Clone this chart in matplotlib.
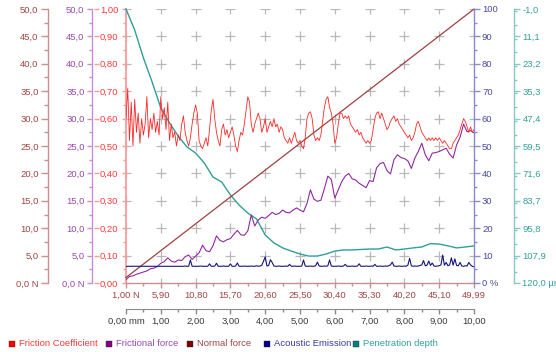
import numpy as np
import matplotlib
matplotlib.use("Agg")
import matplotlib.pyplot as plt
from matplotlib.ticker import MultipleLocator
from matplotlib.patches import Rectangle

plt.rcParams['font.family'] = ['Liberation Sans', 'DejaVu Sans']
FS = 6.8

# ---------------- data ----------------
distance_range_mm = [0.0, 10.0]
normal_force_ends = [1.00, 49.99]          # linear load ramp, N

# friction coefficient, sampled every 0.05 mm
friction_coefficient = [
    0.60, 0.71, 0.52, 0.66, 0.50, 0.67, 0.55, 0.62, 0.51, 0.60, 0.54, 0.58, 0.68, 0.53, 0.60, 0.56, 0.62, 0.55, 0.59, 0.54,
    0.68, 0.60, 0.64, 0.56, 0.66, 0.52, 0.58, 0.53, 0.55, 0.50, 0.54, 0.52, 0.58, 0.61, 0.55, 0.52, 0.50, 0.53, 0.58, 0.62,
    0.65, 0.62, 0.52, 0.50, 0.49, 0.51, 0.53, 0.50, 0.56, 0.63, 0.67, 0.60, 0.55, 0.52, 0.50, 0.56, 0.58, 0.54, 0.56, 0.53,
    0.55, 0.57, 0.54, 0.50, 0.48, 0.52, 0.55, 0.54, 0.58, 0.63, 0.68, 0.66, 0.58, 0.55, 0.58, 0.60, 0.62, 0.60, 0.55, 0.57,
    0.60, 0.55, 0.57, 0.59, 0.57, 0.60, 0.57, 0.58, 0.55, 0.57, 0.56, 0.53, 0.52, 0.51, 0.53, 0.51, 0.53, 0.55, 0.52, 0.51,
    0.52, 0.50, 0.49, 0.53, 0.60, 0.62, 0.625, 0.60, 0.54, 0.52, 0.53, 0.52, 0.54, 0.59, 0.64, 0.67, 0.68, 0.64, 0.62, 0.58,
    0.51, 0.53, 0.58, 0.62, 0.62, 0.60, 0.61, 0.60, 0.61, 0.58, 0.57, 0.56, 0.55, 0.56, 0.54, 0.55, 0.53, 0.52, 0.51, 0.52,
    0.51, 0.52, 0.56, 0.60, 0.62, 0.625, 0.60, 0.62, 0.60, 0.58, 0.56, 0.57, 0.59, 0.60, 0.61, 0.59, 0.60, 0.58, 0.57, 0.56,
    0.55, 0.54, 0.53, 0.54, 0.52, 0.53, 0.55, 0.58, 0.59, 0.57, 0.55, 0.54, 0.53, 0.52, 0.53, 0.52, 0.53, 0.52, 0.53, 0.52,
    0.53, 0.52, 0.51, 0.52, 0.51, 0.50, 0.49, 0.49, 0.51, 0.52, 0.53, 0.54, 0.56, 0.58, 0.60, 0.59, 0.57, 0.55, 0.57, 0.55,
    0.56,
]

# frictional force in N, sampled every 0.1 mm
frictional_force = [
    0.6, 1.2, 1.3, 1.6, 1.8, 2.0, 2.2, 2.6, 2.7, 3.0,
    3.6, 3.9, 4.6, 4.0, 3.8, 4.2, 4.1, 4.8, 5.1, 4.3,
    4.9, 5.5, 6.9, 5.9, 5.7, 6.8, 8.6, 7.8, 7.5, 7.9,
    8.1, 8.9, 9.6, 8.8, 8.7, 9.5, 12.4, 10.4, 11.5, 12.0,
    11.8, 12.3, 12.9, 12.5, 12.7, 13.3, 12.9, 12.8, 13.3, 13.7,
    13.3, 13.0, 14.5, 17.0, 15.3, 14.9, 15.1, 17.2, 19.5, 18.9,
    15.5, 17.0, 18.5, 19.5, 20.0, 19.0, 18.8, 18.2, 17.8, 17.4,
    18.7, 18.5, 21.0, 21.8, 22.0, 20.5, 19.9, 22.5, 23.4, 22.9,
    22.7, 22.3, 20.9, 22.8, 24.0, 25.5, 23.4, 22.3, 23.7, 23.8,
    24.0, 24.3, 24.6, 23.5, 22.8, 25.2, 26.6, 29.0, 27.6, 27.8,
    27.4,
]

# acoustic emission in %, sampled every 0.05 mm
acoustic_emission = [
    6.0, 6.1, 6.1, 6.1, 6.1, 6.1, 6.1, 6.1, 6.1, 6.1, 6.1, 6.1, 6.1, 6.1, 6.1, 6.1, 6.1, 6.1, 6.1, 6.1,
    6.1, 6.1, 6.1, 6.1, 6.1, 6.1, 6.1, 6.1, 6.1, 6.1, 6.1, 6.1, 6.1, 6.1, 6.2, 6.1, 6.1, 8.4, 6.1, 6.1,
    6.1, 6.1, 6.1, 6.2, 6.1, 6.1, 6.1, 6.1, 7.0, 6.1, 6.1, 6.2, 7.2, 6.1, 6.1, 6.1, 6.2, 6.1, 6.1, 6.1,
    7.0, 6.1, 6.1, 6.2, 7.3, 6.1, 6.1, 6.1, 6.2, 6.1, 6.1, 6.1, 6.2, 6.1, 6.1, 6.3, 6.1, 6.2, 6.4, 8.0,
    9.5, 6.2, 6.4, 8.5, 7.5, 6.2, 6.1, 6.1, 6.2, 6.1, 6.1, 6.1, 6.2, 6.1, 6.8, 6.1, 6.1, 6.2, 6.1, 6.1,
    6.1, 6.2, 8.4, 6.2, 6.1, 6.1, 6.2, 6.1, 6.1, 6.3, 7.6, 6.2, 6.1, 6.1, 6.2, 6.1, 6.3, 8.4, 6.2, 6.1,
    6.1, 6.1, 6.2, 6.1, 6.1, 6.2, 6.8, 6.1, 6.1, 6.1, 6.2, 6.1, 6.1, 6.2, 7.0, 6.1, 6.1, 6.1, 6.2, 6.1,
    6.1, 6.2, 6.1, 6.8, 6.1, 6.1, 6.2, 6.1, 6.1, 6.2, 6.1, 6.3, 6.6, 7.6, 6.2, 6.1, 6.1, 6.2, 6.1, 6.1,
    6.2, 6.1, 6.5, 9.0, 6.3, 6.1, 6.2, 6.1, 6.2, 6.4, 6.6, 8.2, 6.3, 6.5, 8.0, 6.4, 7.3, 6.2, 6.1, 6.2,
    6.3, 6.6, 10.2, 6.5, 7.5, 6.3, 6.6, 9.2, 6.5, 8.8, 6.4, 6.3, 7.5, 6.2, 6.1, 6.3, 6.2, 7.5, 6.6, 6.1,
    5.9,
]

# penetration depth in µm, sampled every 0.25 mm
penetration_depth = [
    -1.0, 8.3, 20.6, 31.2, 42.7, 49.3, 55.1, 59.9, 62.6, 67.0,
    73.2, 75.4, 81.1, 85.6, 89.1, 91.7, 98.8, 102.3, 104.5, 105.9,
    107.2, 108.1, 108.1, 107.2, 105.9, 105.4, 105.4, 105.2, 105.0, 105.0,
    104.1, 105.4, 105.0, 104.5, 104.1, 102.6, 102.8, 103.6, 104.5, 104.1,
    103.6,
]

distance_ticks = [0, 1, 2, 3, 4, 5, 6, 7, 8, 9, 10]
distance_tick_labels = ['0,00 mm', '1,00', '2,00', '3,00', '4,00', '5,00',
                        '6,00', '7,00', '8,00', '9,00', '10,00']
normal_force_tick_labels = ['1,00 N', '5,90', '10,80', '15,70', '20,60', '25,50',
                            '30,40', '35,30', '40,20', '45,10', '49,99']
force_ticks = [0, 5, 10, 15, 20, 25, 30, 35, 40, 45, 50]
force_tick_labels = ['0,0 N', '5,0', '10,0', '15,0', '20,0', '25,0',
                     '30,0', '35,0', '40,0', '45,0', '50,0']
coefficient_ticks = [0.0, 0.1, 0.2, 0.3, 0.4, 0.5, 0.6, 0.7, 0.8, 0.9, 1.0]
coefficient_tick_labels = ['0,00', '0,10', '0,20', '0,30', '0,40', '0,50',
                           '0,60', '0,70', '0,80', '0,90', '1,00']
emission_ticks = [0, 10, 20, 30, 40, 50, 60, 70, 80, 90, 100]
emission_tick_labels = ['0 %', '10', '20', '30', '40', '50', '60', '70', '80', '90', '100']
depth_ticks = [-1.0, 11.1, 23.2, 35.3, 47.4, 59.5, 71.6, 83.7, 95.8, 107.9, 120.0]
depth_tick_labels = ['-1,0', '11,1', '23,2', '35,3', '47,4', '59,5',
                     '71,6', '83,7', '95,8', '107,9', '120,0 µm']

legend_labels = ['Friction Coefficient', 'Frictional force', 'Normal force',
                 'Acoustic Emission', 'Penetration depth']

# ---------------- styling ----------------
W, H = 556, 352
def pt(px):
    return px * 72.0 / 100.0

C_MU, C_MU_AX, C_MU_TXT = '#ff2626', '#ff9a9a', '#ff3a3a'
C_FF, C_FF_AX, C_FF_TXT = '#8e2a9e', '#c78fd2', '#9a4aaa'
C_FN, C_FN_AX, C_FN_TXT = '#9e4040', '#c99090', '#a04646'
C_AE, C_AE_AX, C_AE_TXT = '#14147e', '#8a8ad0', '#4a4aa6'
C_PD, C_PD_AX, C_PD_TXT = '#2e9f9a', '#86c9c6', '#33a09c'
C_MM_AX, C_MM_TXT = '#8a8a8a', '#3a3a3a'

fig = plt.figure(figsize=(W / 100, H / 100), dpi=100)
fig.patch.set_facecolor('white')

L, R, T, B = 126, 474, 9, 283
ax = fig.add_axes([L / W, 1 - B / H, (R - L) / W, (B - T) / H])
ax.set_xlim(*distance_range_mm)
ax.set_ylim(0, 1)
ax.patch.set_visible(False)
for s in ('top', 'right'):
    ax.spines[s].set_visible(False)
ax.spines['left'].set_color(C_MU_AX)
ax.spines['left'].set_linewidth(1.3)
ax.spines['bottom'].set_color(C_FN_AX)
ax.spines['bottom'].set_linewidth(1.0)

# grid crosses
gx, gy = np.meshgrid(distance_ticks, coefficient_ticks)
ax.plot(gx.ravel(), gy.ravel(), '+', ms=7, mew=0.9, color='#b8b8b8', zorder=0)

# friction coefficient scale (left edge)
ax.set_yticks(coefficient_ticks, labels=coefficient_tick_labels)
ax.yaxis.set_minor_locator(MultipleLocator(0.05))
ax.tick_params(axis='y', which='both', direction='out', color=C_MU_AX, width=1.0)
ax.tick_params(axis='y', which='major', length=pt(4), labelcolor=C_MU_TXT,
               labelsize=FS, pad=pt(22))
ax.tick_params(axis='y', which='minor', length=pt(3))
for lab in ax.get_yticklabels():
    lab.set_horizontalalignment('left')

# normal force scale (bottom edge)
ax.set_xticks(distance_ticks, labels=normal_force_tick_labels)
ax.xaxis.set_minor_locator(MultipleLocator(0.5))
ax.tick_params(axis='x', which='both', direction='out', color=C_FN_AX, width=1.0)
ax.tick_params(axis='x', which='major', length=pt(5), labelcolor=C_FN_TXT,
               labelsize=FS, pad=pt(3))
ax.tick_params(axis='x', which='minor', length=pt(3))

# sliding distance scale
sec = ax.secondary_xaxis(-26 / (B - T))
sec.set_xticks(distance_ticks, labels=distance_tick_labels)
sec.xaxis.set_minor_locator(MultipleLocator(0.5))
sec.spines['bottom'].set_color(C_MM_AX)
sec.tick_params(axis='x', which='both', direction='out', color=C_MM_AX, width=1.0)
sec.tick_params(axis='x', which='major', length=pt(5), labelcolor=C_MM_TXT,
                labelsize=FS, pad=pt(3))
sec.tick_params(axis='x', which='minor', length=pt(3))


def side_axis(side, offset_px, lim, ticks, labels, minor, c_ax, c_txt, major_len, minor_len):
    t = ax.twinx()
    for s in t.spines.values():
        s.set_visible(False)
    t.set_ylim(*lim)
    if side is None:
        t.yaxis.set_visible(False)
        return t
    sp = t.spines[side]
    sp.set_visible(True)
    sp.set_position(('outward', pt(offset_px)))
    sp.set_color(c_ax)
    sp.set_linewidth(1.0)
    if side == 'left':
        t.yaxis.tick_left()
    else:
        t.yaxis.tick_right()
    t.set_yticks(ticks, labels=labels)
    t.yaxis.set_minor_locator(MultipleLocator(minor))
    t.tick_params(axis='y', which='both', direction='out', color=c_ax, width=1.0)
    t.tick_params(axis='y', which='major', length=pt(major_len), labelcolor=c_txt,
                  labelsize=FS, pad=pt(2.5))
    t.tick_params(axis='y', which='minor', length=pt(minor_len))
    return t


ax_pd = side_axis('right', 40, (120.0, -1.0), depth_ticks, depth_tick_labels, 6.05,
                  C_PD_AX, C_PD_TXT, 6, 3)
ax_fn = side_axis('left', 78, (0, 50), force_ticks, force_tick_labels, 2.5,
                  C_FN_AX, C_FN_TXT, 7, 4.5)
ax_ff = side_axis('left', 34, (0, 50), force_ticks, force_tick_labels, 2.5,
                  C_FF_AX, C_FF_TXT, 5, 3)
ax_ae = side_axis('right', 0, (0, 100), emission_ticks, emission_tick_labels, 5,
                  C_AE_AX, C_AE_TXT, 5.5, 3)

# short markers in front of the coefficient labels
ax_mk = ax.twinx()
for s in ax_mk.spines.values():
    s.set_visible(False)
ax_mk.spines['left'].set_position(('outward', pt(32)))
ax_mk.set_ylim(0, 1)
ax_mk.yaxis.tick_left()
ax_mk.set_yticks(coefficient_ticks, labels=[])
ax_mk.tick_params(axis='y', direction='in', length=pt(5), color=C_MU_AX, width=1.0)

ax_mu = side_axis(None, 0, (0, 1), None, None, None, None, None, None, None)

x_pd = np.linspace(*distance_range_mm, len(penetration_depth))
x_ff = np.linspace(*distance_range_mm, len(frictional_force))
x_ae = np.linspace(*distance_range_mm, len(acoustic_emission))
x_mu = np.linspace(*distance_range_mm, len(friction_coefficient))

ax_pd.plot(x_pd, penetration_depth, color=C_PD, lw=1.0, clip_on=False)
ax_fn.plot(distance_range_mm, normal_force_ends, color=C_FN, lw=0.9, clip_on=False)
ax_ff.plot(x_ff, frictional_force, color=C_FF, lw=0.8)
ax_ae.plot(x_ae, acoustic_emission, color=C_AE, lw=0.8)
ax_mu.plot(x_mu, friction_coefficient, color=C_MU, lw=0.6)

# legend row
legend_colors = ['#ff0000', '#800080', '#800000', '#000080', '#008080']
legend_text_colors = [C_MU_TXT, C_FF_TXT, C_FN_TXT, '#3a3aa0', C_PD_TXT]
legend_x = [9, 106, 187, 264, 353]
ly = 344
for lab, col, tcol, x0 in zip(legend_labels, legend_colors, legend_text_colors, legend_x):
    fig.patches.append(Rectangle((x0 / W, 1 - (ly + 3) / H), 6 / W, 6 / H,
                                 transform=fig.transFigure, facecolor=col,
                                 edgecolor='#333333', linewidth=0.3))
    fig.text((x0 + 10) / W, 1 - ly / H, lab, color=tcol, fontsize=FS,
             va='center', ha='left')

fig.savefig('out.png', dpi=100)
